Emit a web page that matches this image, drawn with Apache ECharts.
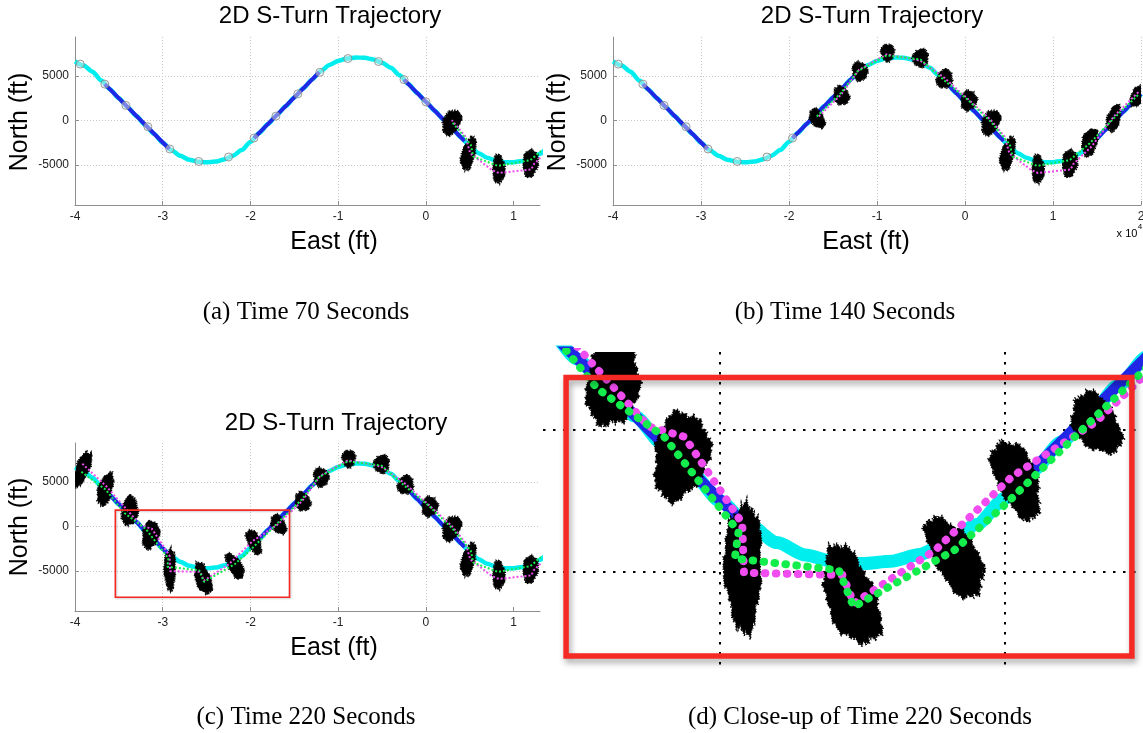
<!DOCTYPE html>
<html><head><meta charset="utf-8">
<script src="https://cdn.jsdelivr.net/npm/echarts@6/dist/echarts.min.js"></script>
<style>html,body{margin:0;padding:0;background:#fff}#c{width:1143px;height:733px}</style>
</head><body><div id="c"></div>
<script>
// ================= DATA (feet) =================
// true S-turn trajectory, [east, north]
const truthPath = [
  [-40000,6670],[-39000,6190],[-38000,5480],[-37000,4500],[-36000,3500],[-35000,2500],[-34000,1500],
  [-33000,500],[-32000,-500],[-31000,-1500],[-30000,-2500],[-29000,-3330],[-28000,-3960],[-27000,-4400],
  [-26000,-4630],[-25000,-4700],[-24000,-4620],[-23000,-4380],[-22000,-3960],[-21000,-3320],[-20000,-2400],
  [-19000,-1400],[-18000,-400],[-17000,600],[-16000,1600],[-15000,2600],[-14000,3600],[-13000,4600],
  [-12000,5560],[-11000,6250],[-10000,6710],[-9000,6980],[-8000,7100],[-7000,7060],[-6000,6870],
  [-5000,6500],[-4000,5940],[-3000,5100],[-2000,4100],[-1000,3100],[0,2100],[1000,1100],[2000,100],
  [3000,-900],[4000,-1900],[5000,-2900],[6000,-3670],[7000,-4190],[8000,-4520],[9000,-4680],
  [10000,-4690],[11000,-4540],[12000,-4230],[13000,-3730],[14000,-2990],[15000,-2000],[16000,-1000],
  [17000,0],[18000,1000],[19000,2000],[20000,3000]
];
// straight legs of the trajectory (drawn blue)
const blueLegs = [
  [[-36600,4100],[-29250,-3200]],
  [[-19600,-1970],[-12150,5450]],
  [[-2500,4600],[4400,-2300]],
  [[14500,-2500],[20000,3000]]
];
// waypoints in time order (aircraft flies westward)
const waypoints = [
  [19500,2500],[17000,0],[14500,-2500],[12000,-4230],[8200,-4520],[4700,-2600],[2500,-400],
  [0,2100],[-2500,4600],[-5400,6640],[-8900,6980],[-12100,5430],[-14600,3000],[-17100,500],
  [-19600,-1970],[-22500,-4100],[-25900,-4600],[-29200,-3200],[-31700,-690],[-34200,1700],
  [-36600,4100],[-39400,6350]
];
// particle clouds in time order: [east, north, spreadE, spreadN, tiltDeg]
const clouds = [
  [19600,2700,1500,2300,20],[16900,250,1450,3000,15],[14200,-2400,1700,3100,15],
  [11900,-4830,1700,3000,5],[8300,-5450,1400,3100,0],[4850,-3750,1500,3700,15],
  [2950,-200,1900,2900,25],[420,2250,1750,2200,10],[-2330,4700,1750,2100,15],
  [-5050,7030,1750,2000,10],[-8800,7650,1500,1900,0],[-11950,5550,1700,2100,-10],
  [-14050,2800,1700,2100,-20],[-16800,230,1500,2300,-30],[-19600,-1720,1400,2900,-22],
  [-21750,-4470,1500,3100,-30],[-25400,-5850,1700,3600,-19],[-29180,-4820,1300,4500,0],
  [-31370,-900,1900,3100,10],[-33760,1750,1800,3300,5],[-36530,4190,1600,3700,15],
  [-39120,6520,1500,4000,20]
];
// estimated tracks: [east, north, step]
const greenTrack = [
  [19650,2870,0],[16910,250,1],[14170,-2560,2],[11900,-4450,3],[8200,-5100,4],[5400,-4050,5],
  [5100,-2700,5],[2960,-150,6],[360,2300,7],[-2390,4550,8],[-5040,6850,9],[-8900,7350,10],
  [-12200,5550,11],[-14100,3100,12],[-16850,450,13],[-19950,-2580,14],[-21770,-4220,15],
  [-25310,-6220,16],[-25830,-4930,16],[-29480,-4520,17],[-29350,-3580,17],[-31960,-235,18],
  [-34310,1470,19],[-36500,4150,20],[-39400,6250,21]
];
const magentaTrack = [
  [19700,3200,0],[16900,450,1],[14400,-2900,2],[12300,-4900,3],[12000,-5500,3],[8300,-5900,4],
  [7500,-5550,4],[5050,-3700,5],[4500,-1800,5],[2950,50,6],[300,2450,7],[-2400,4850,8],
  [-5100,6750,9],[-8900,7450,10],[-12050,5700,11],[-14100,2900,12],[-16800,300,13],
  [-19760,-1640,14],[-22440,-4220,15],[-25310,-6100,16],[-25700,-5100,16],[-29160,-5020,17],
  [-29220,-3280,17],[-31250,-235,18],[-32490,120,18],[-34640,2520,19],[-36400,4500,20],
  [-39200,7100,21]
];
const zoomBox = [[-35400,1850],[-15550,-7950]];
const panelSteps = [7, 14, 22, 22];
const xTickScale = 10000;
const titleText = '2D S-Turn Trajectory';
const xName = 'East (ft)', yName = 'North (ft)';
const captions = ['(a) Time 70 Seconds','(b) Time 140 Seconds','(c) Time 220 Seconds','(d) Close-up of Time 220 Seconds'];

// ================= LAYOUT / STYLE =================
const CYAN='#00eeee', BLUE='#2028e6', GREEN='#14ee4c', MAGENTA='#f04cf0', RED='#f52a24';
const panels = [
  {grid:{left:75,top:37,width:465,height:168}, x:[-40000,13000], y:[-9500,9400], full:true, xt:[-40000,-30000,-20000,-10000,0,10000], maxLine:false},
  {grid:{left:613,top:37,width:528,height:168}, x:[-40000,20000], y:[-9500,9400], full:true, xt:[-40000,-30000,-20000,-10000,0,10000,20000], maxLine:true},
  {grid:{left:75,top:443,width:465,height:168}, x:[-40000,13000], y:[-9500,9400], full:true, xt:[-40000,-30000,-20000,-10000,0,10000], maxLine:false, box:'thin'},
  {grid:{left:543,top:352,width:600,height:313}, x:[-36210,-15160], y:[-8270,2750], full:false, box:'thick'}
];

const axisGrey = '#8e8e8e';
function gridLineStyle(full){ return full ? {color:'#c6c6c6', width:1, type:[1,2]} : {color:'#000', width:2, type:[2.5,7.5]}; }

const xAxis = panels.map((p,i)=>({
  gridIndex:i, type:'value', min:p.x[0], max:p.x[1], minInterval:10000, maxInterval:10000,
  axisLine:{show:p.full, onZero:false, lineStyle:{color:axisGrey, width:1}},
  axisTick:{show:p.full, inside:true, length:4, lineStyle:{color:axisGrey}, customValues: p.full ? p.xt : undefined},
  axisLabel:{show:p.full, interval:0, fontSize:12, color:'#222', margin:6, showMinLabel:true, showMaxLabel:!!p.maxLine,
    formatter:v=>String(Math.round(v/xTickScale*10)/10)},
  splitLine:{show:true, showMinLine:false, showMaxLine:!!p.maxLine, lineStyle:gridLineStyle(p.full)}
}));
const yAxis = panels.map((p,i)=>({
  gridIndex:i, type:'value', min:p.y[0], max:p.y[1], minInterval:5000, maxInterval:5000,
  axisLine:{show:p.full, onZero:false, lineStyle:{color:axisGrey, width:1}},
  axisTick:{show:p.full, inside:true, length:4, lineStyle:{color:axisGrey}},
  axisLabel:{show:p.full, fontSize:12, color:'#222', margin:6, showMinLabel:false, showMaxLabel:false, formatter:v=>String(v)},
  splitLine:{show:true, showMinLine:false, showMaxLine:false, lineStyle:gridLineStyle(p.full)}
}));

function cloudSeries(i,k){
  return {
    type:'custom', xAxisIndex:i, yAxisIndex:i, clip:true, z:3, silent:true,
    dimensions:['east','north','spreadE','spreadN','tilt'], encode:{x:0,y:1},
    data:clouds.slice(0,k),
    renderItem(params, api){
      const e=api.value(0), n=api.value(1), a=api.value(2)/2, b=api.value(3)/2, t=api.value(4)*Math.PI/180;
      const s=params.dataIndex+1, pts=[], N=220;
      for(let j=0;j<N;j++){
        const th=2*Math.PI*j/N;
        const r=1+0.07*Math.sin(3*th+s*1.7)+0.05*Math.sin(7*th+s*2.3)+0.035*Math.sin(19*th+s*0.7)
               +0.03*Math.sin(43*th+s*1.3)+0.02*Math.sin(71*th+s*2.9);
        const lx=a*Math.cos(th)*r, ly=b*Math.sin(th)*r;
        pts.push(api.coord([e+lx*Math.cos(t)+ly*Math.sin(t), n-lx*Math.sin(t)+ly*Math.cos(t)]));
      }
      return {type:'polygon', shape:{points:pts},
        style:{fill:'#000', stroke:'#000', lineWidth:1.5, lineDash:[1,1.5]}};
    }
  };
}
function boxSeries(i, kind){
  const thick = kind==='thick';
  return {
    type:'custom', xAxisIndex:i, yAxisIndex:i, clip:false, z:8, silent:true,
    data:[[zoomBox[0][0],zoomBox[0][1],zoomBox[1][0],zoomBox[1][1]]], encode:{x:[0,2],y:[1,3]},
    renderItem(params, api){
      const p0=api.coord([api.value(0),api.value(1)]), p1=api.coord([api.value(2),api.value(3)]);
      return {type:'rect', shape:{x:p0[0],y:p0[1],width:p1[0]-p0[0],height:p1[1]-p0[1]},
        style:{fill:null, stroke:RED, lineWidth: thick?5.5:1.6,
          shadowBlur: thick?6:2, shadowColor: thick?'rgba(0,0,0,0.35)':'rgba(0,0,0,0.2)',
          shadowOffsetX: thick?2:1, shadowOffsetY: thick?4:1}};
    }
  };
}

const series = [];
panels.forEach((p,i)=>{
  const k = panelSteps[i], big = !p.full;
  const common = {xAxisIndex:i, yAxisIndex:i, silent:true, symbol:'none'};
  series.push(Object.assign({}, common, {type:'line', data:truthPath, smooth:0.25, smoothMonotone:'x', z:1,
    lineStyle:{color:CYAN, width: big?13:4.5}}));
  blueLegs.forEach(leg=>series.push(Object.assign({}, common, {type:'line', data:leg, z:2,
    lineStyle:{color:BLUE, width: big?11:4}})));
  series.push(cloudSeries(i,k));
  [[magentaTrack,MAGENTA,4],[greenTrack,GREEN,5]].forEach(([trk,col,z])=>{
    series.push(Object.assign({}, common, {type:'line', z,
      data: trk.filter(q=>q[2]<k).map(q=>[q[0],q[1]]),
      lineStyle: big ? {color:col, width:8, type:[0.5,10.5], cap:'round'} : {color:col, width:2, type:[2,2]}}));
  });
  if (k < waypoints.length) series.push({type:'scatter', xAxisIndex:i, yAxisIndex:i, silent:true, z:6,
    symbol:'circle', symbolSize:8, data:waypoints.slice(k),
    itemStyle:{color:'rgba(232,232,232,0.6)', borderColor:'#858585', borderWidth:1}});
  if (p.box) series.push(boxSeries(i, p.box));
});

function txt(text, x, y, size, family, extra){
  return Object.assign({type:'text', x, y, silent:true, z:100,
    style:{text, fill:'#000', fontSize:size, fontFamily:family, align:'center', verticalAlign:'middle',
      textAlign:'center', textVerticalAlign:'middle'}}, extra||{});
}
const SANS = '"Liberation Sans", Arial, sans-serif', SERIF = '"Liberation Serif", "Times New Roman", serif';
const graphics = [
  txt(titleText, 330, 16, 24, SANS), txt(titleText, 872, 16, 24, SANS), txt(titleText, 336, 423, 24, SANS),
  txt(xName, 334, 242, 25, SANS), txt(xName, 866, 242, 25, SANS), txt(xName, 334, 648, 25, SANS),
  txt(yName, 20, 122, 25, SANS, {rotation:Math.PI/2}), txt(yName, 558, 122, 25, SANS, {rotation:Math.PI/2}),
  txt(yName, 20, 527, 25, SANS, {rotation:Math.PI/2}),
  txt('x 10', 1127, 234, 11, SANS), txt('4', 1140, 227, 8, SANS),
  txt(captions[0], 306, 312, 25, SERIF), txt(captions[1], 845, 312, 25, SERIF),
  txt(captions[2], 306, 717, 25, SERIF), txt(captions[3], 860, 717, 25, SERIF)
];

const chart = echarts.init(document.getElementById('c'), null, {renderer:'canvas', width:1143, height:733});
chart.setOption({
  backgroundColor:'#fff', animation:false,
  textStyle:{fontFamily:SANS},
  grid: panels.map(p=>Object.assign({containLabel:false, outerBoundsMode:'none'}, p.grid)),
  xAxis, yAxis, series,
  graphic:{elements:graphics}
});
</script></body></html>
